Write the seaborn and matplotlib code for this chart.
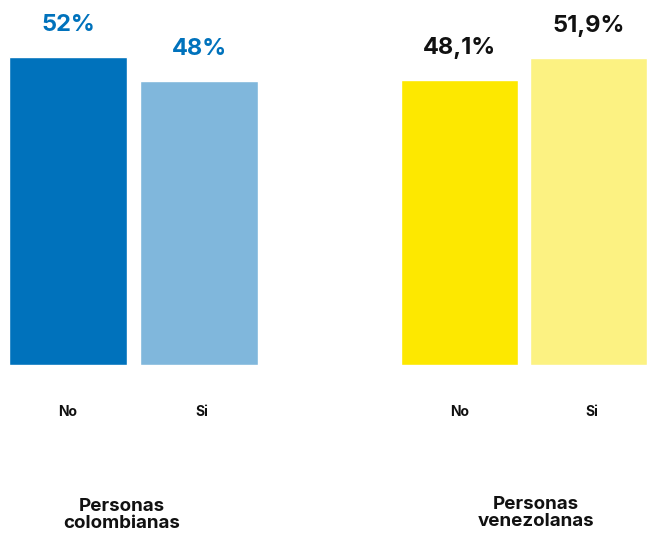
import matplotlib
matplotlib.use("Agg")
import matplotlib.pyplot as plt
import seaborn as sns
import pandas as pd

# data
answers = ["No", "Si"]
colombianas = [52, 48]
venezolanas = [48.1, 51.9]
colombianas_labels = ["52%", "48%"]
venezolanas_labels = ["48,1%", "51,9%"]
groups = ["Personas\ncolombianas", "Personas\nvenezolanas"]

colores_col = ["#0072BC", "#80B7DC"]
colores_ven = ["#FDE800", "#FCF282"]

sns.set_theme(style="white")
plt.rcParams['font.family'] = ['Inter', 'DejaVu Sans']

fig = plt.figure(figsize=(6.47, 5.33), dpi=100)
bottom = (533 - 365) / 533
height = 365 / 533
ax1 = fig.add_axes([9 / 647, bottom, (258 - 9) / 647, height])
ax2 = fig.add_axes([401 / 647, bottom, (647 - 401) / 647, height])

ymax = 365 / 5.92

for ax, vals, labels, colores, txtcolor in [
    (ax1, colombianas, colombianas_labels, colores_col, "#0072BC"),
    (ax2, venezolanas, venezolanas_labels, colores_ven, "#111111"),
]:
    df = pd.DataFrame({"answer": answers, "value": vals})
    sns.barplot(data=df, x="answer", y="value", hue="answer", palette=colores,
                width=0.9, saturation=1, legend=False, ax=ax)
    ax.set_xlim(-0.45, 1.45)
    ax.set_ylim(0, ymax)
    for i, (v, lab) in enumerate(zip(vals, labels)):
        ax.text(i, v + 32 / 5.92, lab, ha="center", va="center",
                fontsize=17, fontweight="bold", color=txtcolor)
    ax.set_xlabel("")
    ax.set_ylabel("")
    ax.set_yticks([])
    ax.set_xticks([])
    for s in ax.spines.values():
        s.set_visible(False)
    # category labels under the bars
    for i, a in enumerate(answers):
        ax.text(i + 0.02 * i, -47 / 5.92, a, ha="center", va="center",
                fontsize=10, fontweight="bold", color="#111111")

fig.text(122 / 647, 1 - 515 / 533, groups[0], ha="center", va="center",
         fontsize=13.5, fontweight="bold", color="#111111", linespacing=1.05)
fig.text(536 / 647, 1 - 513 / 533, groups[1], ha="center", va="center",
         fontsize=13.5, fontweight="bold", color="#111111", linespacing=1.05)

fig.savefig("out.png", dpi=100)
